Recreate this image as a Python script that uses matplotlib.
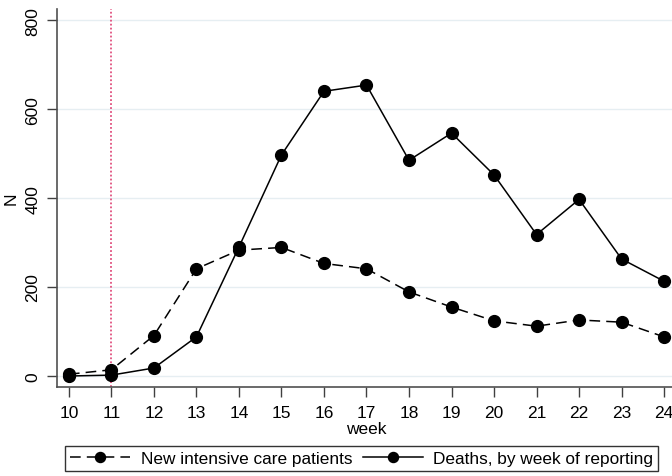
import matplotlib
matplotlib.use("Agg")
import matplotlib.pyplot as plt

plt.rcParams['font.family'] = ['Liberation Sans', 'DejaVu Sans']

# weekly counts
weeks = [10, 11, 12, 13, 14, 15, 16, 17, 18, 19, 20, 21, 22, 23, 24]
icu_new = [4, 14, 91, 241, 283, 289, 253, 241, 189, 155, 124, 112, 126, 121, 88]
deaths = [0, 2, 18, 88, 290, 497, 640, 654, 485, 546, 452, 318, 397, 263, 213]
yticks = [0, 200, 400, 600, 800]
lockdown_week = 11

fig = plt.figure(figsize=(6.72, 4.77), dpi=100)
ax = fig.add_axes([57 / 672, 1 - 388 / 477, 619 / 672, 378 / 477])

ax.set_xlim(9.72, 24.28)
ax.set_ylim(-24.7, 825)

for y in yticks:
    ax.axhline(y, color='#e6eef2', lw=1.0, zorder=0)

ax.axvline(lockdown_week, color='#e0507e', lw=1.3, ls=(0, (1, 1.2)), zorder=1)

ax.plot(weeks, icu_new, color='black', lw=1.1, ls=(0, (7, 4)),
        marker='o', ms=8.5, label='New intensive care patients', zorder=3)
ax.plot(weeks, deaths, color='black', lw=1.1, ls='-',
        marker='o', ms=8.5, label='Deaths, by week of reporting', zorder=3)

ax.set_xticks(weeks)
ax.set_yticks(yticks)
ax.set_yticklabels([str(v) for v in yticks], rotation=90, va='center')
ax.tick_params(axis='both', labelsize=12.5, length=7, width=1, color='#404040')
ax.tick_params(axis='y', pad=5)
ax.tick_params(axis='x', pad=6)

for s in ['top', 'right']:
    ax.spines[s].set_visible(False)
for s in ['left', 'bottom']:
    ax.spines[s].set_color('#505050')
    ax.spines[s].set_linewidth(1.2)

ax.set_xlabel('week', fontsize=12.5, labelpad=1)
ax.set_ylabel('N', fontsize=12.5, labelpad=5)

leg = fig.legend(loc='upper left', bbox_to_anchor=(65 / 672, 1 - 447 / 477),
                 ncol=2, fontsize=12.4, frameon=True, fancybox=False,
                 edgecolor='black', handlelength=3.5, columnspacing=0.6,
                 handletextpad=0.6, borderpad=0.3, borderaxespad=0,
                 markerscale=0.85)
leg.get_frame().set_linewidth(1.0)

fig.savefig('out.png', dpi=100)
